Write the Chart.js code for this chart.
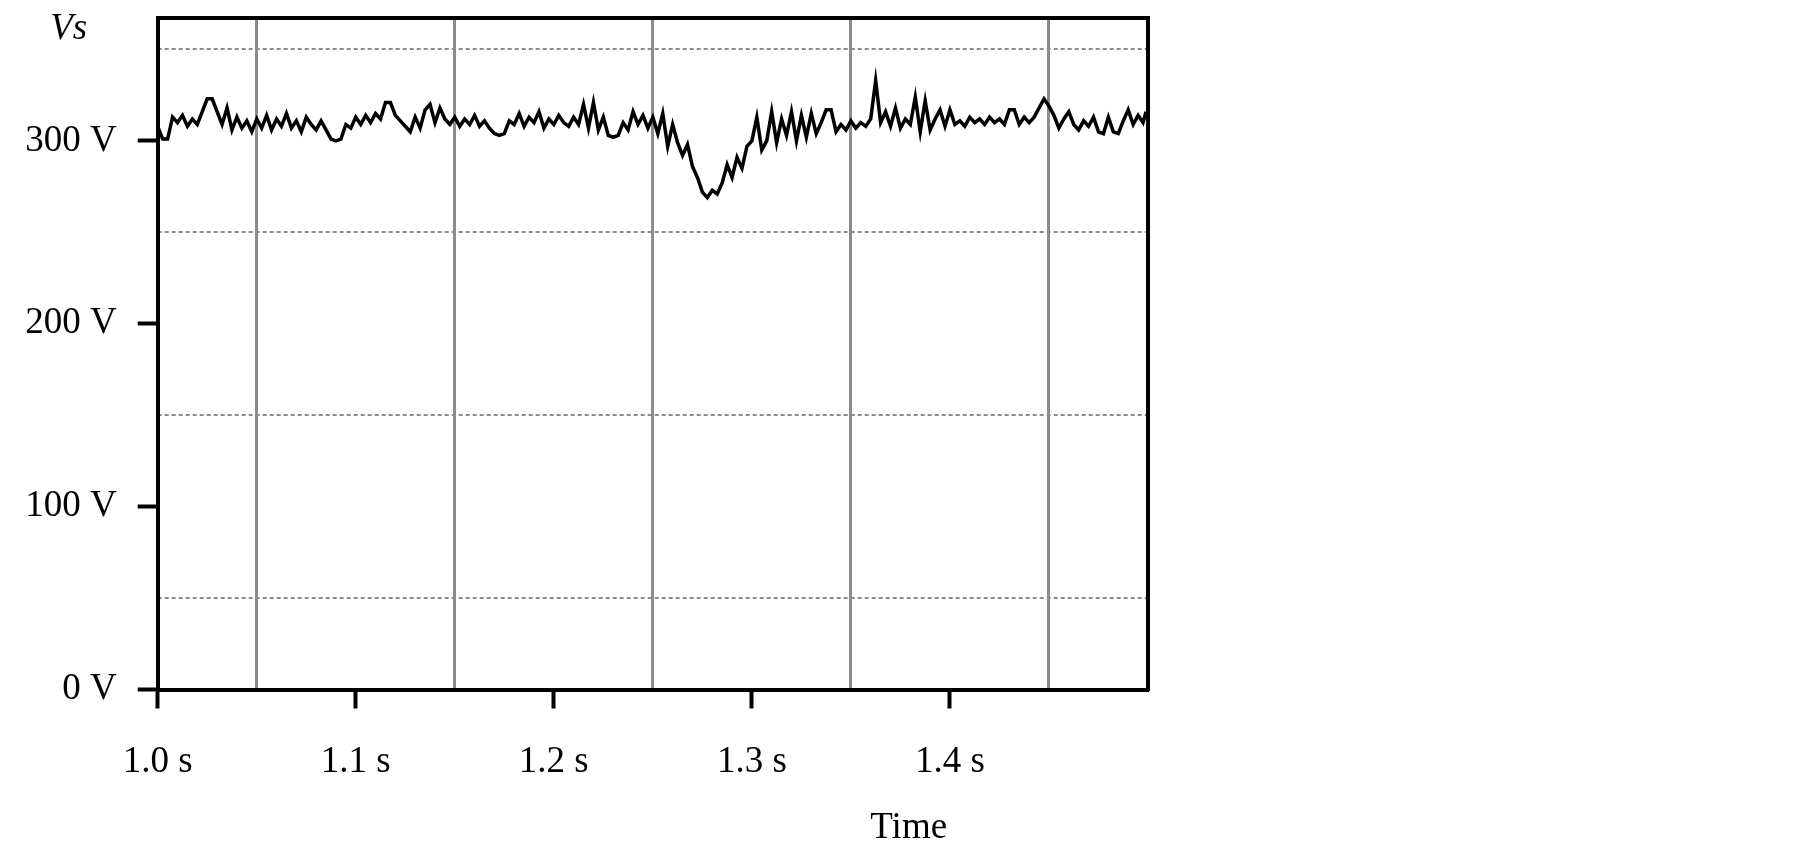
<!DOCTYPE html>
<html>
<head>
<meta charset="utf-8">
<script src="https://cdn.jsdelivr.net/npm/chart.js@4.4.1/dist/chart.umd.min.js"></script>
<style>
  html, body { margin: 0; padding: 0; background: #ffffff; }
  #wrap { position: relative; width: 1805px; height: 852px; }
</style>
</head>
<body>
<div id="wrap"><canvas id="c"></canvas></div>
<script>
// ---- Data ----
const times = [
  1.0000,1.0025,1.0050,1.0075,1.0100,1.0125,1.0150,1.0175,1.0200,1.0225,
  1.0250,1.0275,1.0300,1.0325,1.0350,1.0375,1.0400,1.0425,1.0450,1.0475,
  1.0500,1.0525,1.0550,1.0575,1.0600,1.0625,1.0650,1.0675,1.0700,1.0725,
  1.0750,1.0775,1.0800,1.0825,1.0850,1.0875,1.0900,1.0925,1.0950,1.0975,
  1.1000,1.1025,1.1050,1.1075,1.1100,1.1125,1.1150,1.1175,1.1200,1.1225,
  1.1250,1.1275,1.1300,1.1325,1.1350,1.1375,1.1400,1.1425,1.1450,1.1475,
  1.1500,1.1525,1.1550,1.1575,1.1600,1.1625,1.1650,1.1675,1.1700,1.1725,
  1.1750,1.1775,1.1800,1.1825,1.1850,1.1875,1.1900,1.1925,1.1950,1.1975,
  1.2000,1.2025,1.2050,1.2075,1.2100,1.2125,1.2150,1.2175,1.2200,1.2225,
  1.2250,1.2275,1.2300,1.2325,1.2350,1.2375,1.2400,1.2425,1.2450,1.2475,
  1.2500,1.2525,1.2550,1.2575,1.2600,1.2625,1.2650,1.2675,1.2700,1.2725,
  1.2750,1.2775,1.2800,1.2825,1.2850,1.2875,1.2900,1.2925,1.2950,1.2975,
  1.3000,1.3025,1.3050,1.3075,1.3100,1.3125,1.3150,1.3175,1.3200,1.3225,
  1.3250,1.3275,1.3300,1.3325,1.3350,1.3375,1.3400,1.3425,1.3450,1.3475,
  1.3500,1.3525,1.3550,1.3575,1.3600,1.3625,1.3650,1.3675,1.3700,1.3725,
  1.3750,1.3775,1.3800,1.3825,1.3850,1.3875,1.3900,1.3925,1.3950,1.3975,
  1.4000,1.4025,1.4050,1.4075,1.4100,1.4125,1.4150,1.4175,1.4200,1.4225,
  1.4250,1.4275,1.4300,1.4325,1.4350,1.4375,1.4400,1.4425,1.4450,1.4475,
  1.4500,1.4525,1.4550,1.4575,1.4600,1.4625,1.4650,1.4675,1.4700,1.4725,
  1.4750,1.4775,1.4800,1.4825,1.4850,1.4875,1.4900,1.4925,1.4950,1.4975,
  1.4990
];
const vsValues = [
  308,301,301,313,310,314,308,312,309,316,
  323,323,316,309,318,306,313,307,311,305,
  312,307,314,306,312,308,315,307,311,305,
  313,309,306,311,306,301,300,301,309,307,
  313,309,314,310,315,312,321,321,314,311,
  308,305,313,307,317,320,310,318,312,309,
  313,308,312,309,314,308,311,307,304,303,
  304,311,309,315,308,313,310,316,307,312,
  309,314,310,308,313,309,320,307,321,306,
  313,303,302,303,310,306,316,309,314,307,
  313,304,315,297,309,299,292,298,286,280,
  272,269,273,271,277,287,280,291,285,297,
  300,313,295,300,316,299,312,303,316,300,
  314,302,315,304,310,317,317,305,309,306,
  311,307,310,308,312,333,310,316,308,318,
  307,312,309,324,305,322,306,312,317,308,
  317,309,311,308,313,310,312,309,313,310,
  312,309,317,317,309,313,310,313,318,323,
  319,314,307,312,316,309,306,311,308,313,
  305,304,313,305,304,311,317,309,314,310,
  316
];
const xTickValues = [1.0, 1.1, 1.2, 1.3, 1.4];
const xGridValues = [1.05, 1.15, 1.25, 1.35, 1.45];
const yTickValues = [0, 100, 200, 300];
const yGridValues = [50, 150, 250, 350];
const xLabelUnit = ' s';
const yLabelUnit = ' V';
const yAxisName = 'Vs';
const xAxisName = 'Time';

// ---- Chart ----
const SERIF = '"Liberation Serif", "Times New Roman", serif';
const FS = 37;

const textPlugin = {
  id: 'axisNames',
  afterDraw(chart) {
    const {ctx, chartArea} = chart;
    ctx.save();
    ctx.fillStyle = '#000';
    ctx.textAlign = 'center';
    ctx.textBaseline = 'middle';
    ctx.font = 'italic ' + FS + 'px ' + SERIF;
    ctx.fillText(yAxisName, chartArea.left - 89, chartArea.top + 11);
    ctx.font = FS + 'px ' + SERIF;
    ctx.fillText(xAxisName, chartArea.left + 751, chartArea.bottom + 139);
    ctx.restore();
  }
};

new Chart(document.getElementById('c'), {
  type: 'line',
  data: {
    datasets: [{
      data: times.map((t, i) => ({x: t, y: vsValues[i]})),
      borderColor: '#000',
      borderWidth: 3.5,
      pointRadius: 0,
      tension: 0,
      fill: false,
      xAxisID: 'x',
      yAxisID: 'y'
    }]
  },
  options: {
    responsive: true,
    maintainAspectRatio: false,
    animation: false,
    layout: { padding: { top: 18.4, right: 657, bottom: 0, left: 0 } },
    plugins: { legend: { display: false }, tooltip: { enabled: false } },
    scales: {
      x: {
        type: 'linear', position: 'bottom', min: 1.0, max: 1.5,
        afterBuildTicks: s => { s.ticks = xTickValues.map(v => ({value: v})); },
        afterFit: s => { s.height = 162.5; s.paddingLeft = 0; s.paddingRight = 0; },
        grid: { drawOnChartArea: false, drawTicks: true, tickLength: 19, tickWidth: 4, tickColor: '#000' },
        border: { display: true, color: '#000', width: 4 },
        ticks: {
          autoSkip: false, maxRotation: 0, padding: 32, color: '#000',
          font: { family: SERIF, size: FS },
          callback: v => Number(v).toFixed(1) + xLabelUnit
        }
      },
      y: {
        type: 'linear', position: 'left', min: 0, max: 367,
        afterBuildTicks: s => { s.ticks = yTickValues.map(v => ({value: v})); },
        afterFit: s => { s.width = 157.7; s.paddingTop = 0; s.paddingBottom = 0; },
        grid: { drawOnChartArea: false, drawTicks: true, tickLength: 20, tickWidth: 4, tickColor: '#000' },
        border: { display: true, color: '#000', width: 4 },
        ticks: {
          autoSkip: false, padding: 21, color: '#000',
          font: { family: SERIF, size: FS },
          callback: v => v + yLabelUnit
        }
      },
      xg: {
        type: 'linear', position: 'top', min: 1.0, max: 1.5,
        afterBuildTicks: s => { s.ticks = xGridValues.map(v => ({value: v})); },
        afterFit: s => { s.height = 0; s.paddingLeft = 0; s.paddingRight = 0; },
        grid: { drawOnChartArea: true, drawTicks: false, color: '#8c8c8c', lineWidth: 3 },
        border: { display: true, color: '#000', width: 4 },
        ticks: { display: false }
      },
      yg: {
        type: 'linear', position: 'right', min: 0, max: 367,
        afterBuildTicks: s => { s.ticks = yGridValues.map(v => ({value: v})); },
        afterFit: s => { s.width = 0; s.paddingTop = 0; s.paddingBottom = 0; },
        grid: { drawOnChartArea: true, drawTicks: false, color: '#8c8c8c', lineWidth: 2 },
        border: { display: true, color: '#000', width: 4, dash: [4, 3] },
        ticks: { display: false }
      }
    }
  },
  plugins: [textPlugin]
});
</script>
</body>
</html>
